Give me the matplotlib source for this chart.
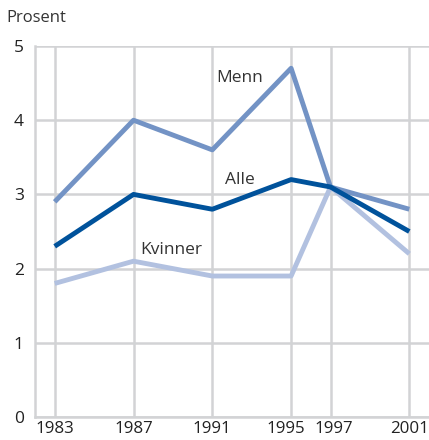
import matplotlib
matplotlib.use("Agg")
import matplotlib.pyplot as plt
from matplotlib.transforms import offset_copy

years = [1983, 1987, 1991, 1995, 1997, 2001]
menn = [2.9, 4.0, 3.6, 4.7, 3.1, 2.8]
alle = [2.3, 3.0, 2.8, 3.2, 3.1, 2.5]
kvinner = [1.8, 2.1, 1.9, 1.9, 3.1, 2.2]
yticks = [0, 1, 2, 3, 4, 5]
# small horizontal nudges (pixels) to keep crowded year labels apart
label_nudge = {1995: -5, 1997: 3}

plt.rcParams['font.family'] = ['Open Sans', 'DejaVu Sans']

fig = plt.figure(figsize=(4.29, 4.40), dpi=100)
ax = fig.add_axes([35/429, 1-417/440, 1-35/429, (417-46)/440])

grid_c = '#d2d3d5'
ax.set_xlim(1982, 2002)
ax.set_ylim(0, 5)
ax.set_xticks(years)
ax.set_xticklabels([])
ax.set_yticks(yticks)
ax.grid(True, color=grid_c, linewidth=1.8)
ax.set_axisbelow(True)
for s in ['top', 'right']:
    ax.spines[s].set_visible(False)
for s in ['left', 'bottom']:
    ax.spines[s].set_color(grid_c)
    ax.spines[s].set_linewidth(1.8)
ax.tick_params(length=0, labelsize=12.5, colors='#222222')
ax.tick_params(axis='y', pad=8)

xt = ax.get_xaxis_transform()
for yr in years:
    tr = offset_copy(xt, fig=fig, x=label_nudge.get(yr, 0), y=-4, units='dots')
    ax.text(yr, 0, str(yr), transform=tr, ha='center', va='top',
            fontsize=12.2, color='#222222')

ax.plot(years, kvinner, color='#b2c1e0', lw=3.5, solid_capstyle='butt', zorder=3)
ax.plot(years, menn, color='#7393c5', lw=3.5, solid_capstyle='butt', zorder=4)
ax.plot(years, alle, color='#00529b', lw=3.5, solid_capstyle='butt', zorder=5)

ax.text(1992.4, 4.57, 'Menn', ha='center', va='center', fontsize=12.5, color='#333333')
ax.text(1992.4, 3.19, 'Alle', ha='center', va='center', fontsize=12.5, color='#333333')
ax.text(1988.9, 2.25, 'Kvinner', ha='center', va='center', fontsize=12.5, color='#333333')

fig.text(6/429, 1-18/440, 'Prosent', ha='left', va='center', fontsize=12, color='#333333')

fig.savefig('out.png', dpi=100)
